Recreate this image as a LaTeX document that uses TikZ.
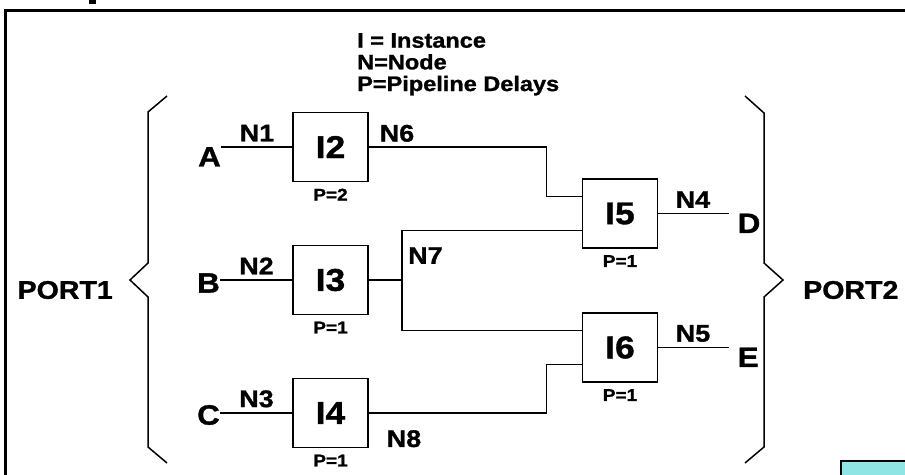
\documentclass[tikz,border=0pt]{standalone}
\usepackage{fontspec}
\setmainfont{Liberation Sans}[FakeStretch=1.12, BoldFeatures={FakeBold=1.2}]
\usepackage{tikz}
\usetikzlibrary{positioning}
\definecolor{tealbox}{HTML}{8FE5E4}

\begin{document}
\begin{tikzpicture}[x=1pt, y=-1pt, node distance=64pt]
        \tikzstyle{instnode}=[rectangle, draw=black, line width=1.8pt, minimum width=75pt, minimum height=69pt, inner sep=0pt, outer sep=0pt, font=\fontsize{31.5}{33}\selectfont\bfseries]
        \tikzstyle{delaylbl}=[inner sep=0pt, font=\fontsize{17}{18}\selectfont\bfseries]
        \tikzstyle{pinlbl}=[inner sep=0pt, font=\fontsize{28}{29}\selectfont\bfseries]
        \tikzstyle{nodelbl}=[inner sep=0pt, font=\fontsize{24}{25}\selectfont\bfseries]
        \tikzstyle{portlbl}=[inner sep=0pt, font=\fontsize{25.5}{27}\selectfont\bfseries]
        \tikzstyle{legendlbl}=[inner sep=0pt, align=left, font=\fontsize{21}{21.7}\selectfont\bfseries]
        \tikzstyle{wire}=[line width=1.3pt]
        \tikzstyle{brace}=[line width=1.5pt]
        \useasboundingbox (0,0) rectangle (905,474);
        \clip (0,0) rectangle (905,474);
        \draw[line width=3pt] (5.5,490) |- (920,10.5);
        \fill (89,0) rectangle (96,4);
        \draw[fill=tealbox, line width=2pt] (841,461) rectangle (920,490);
        \node[legendlbl, anchor=north west] (key) at (357,33) {I = Instance\\N=Node\\P=Pipeline Delays};
        \node[instnode] (I2) at (330.5,147) {I2};
        \node[instnode, below=of I2] (I3) {I3};
        \node[instnode, below=of I3] (I4) {I4};
        \node[instnode] (I5) at (620,213.5) {I5};
        \node[instnode, below=65pt of I5] (I6) {I6};
        \foreach \b/\p in {I2/2,I3/1,I4/1,I5/1,I6/1} {
            \node[delaylbl, below=7pt of \b] (p\b) {P=\p};
        }
        \node[pinlbl, anchor=north east] (A) at (221,147) {A};
        \node[pinlbl, anchor=east] (B) at (220,283) {B};
        \node[pinlbl, anchor=east] (C) at (220,415) {C};
        \node[pinlbl, anchor=north west] (D) at ([xshift=80pt]I5.east) {D};
        \node[pinlbl, anchor=north west] (E) at ([xshift=80pt]I6.east) {E};
        \draw[wire] (A.north east) -- node[nodelbl, above=5pt] (n1) {N1} (I2.west);
        \draw[wire] (B.east |- I3.west) -- node[nodelbl, above=5pt] (n2) {N2} (I3.west);
        \draw[wire] (C.east |- I4.west) -- node[nodelbl, above=5pt] (n3) {N3} (I4.west);
        \draw[wire] (I5.east) -- node[nodelbl, above=5pt] (n4) {N4} ([xshift=-9pt]D.north west);
        \draw[wire] (I6.east) -- node[nodelbl, above=5pt] (n5) {N5} ([xshift=-9pt]E.north west);
        \draw[wire] (I2.east) -| ([xshift=-36pt, yshift=17pt]I5.west) -- ([yshift=17pt]I5.west);
        \node[nodelbl, anchor=south] (n6) at ([xshift=29pt, yshift=5pt]I2.east) {N6};
        \coordinate (j7) at ([xshift=34pt]I3.east);
        \draw[wire] (I3.east) -- (j7);
        \draw[wire] ([yshift=-17pt]I5.west) -| (j7) |- ([yshift=17pt]I6.west);
        \node[nodelbl, anchor=south west] (n7) at ([xshift=6pt, yshift=16pt]j7) {N7};
        \draw[wire] (I4.east) -| ([xshift=-36pt, yshift=-17pt]I6.west) -- ([yshift=-17pt]I6.west);
        \node[nodelbl, anchor=north] (n8) at ([xshift=36pt, yshift=-17pt]I4.east) {N8};
        \draw[brace] (167,96) -- (148,112) -- (148,263) -- (130,280) -- (148,297) -- (148,447) -- (167,463);
        \draw[brace] (745,96) -- (764,113) -- (764,263) -- (783,280) -- (764,297) -- (764,447) -- (745,463);
        \node[portlbl, anchor=east] (port1) at (113,290) {PORT1};
        \node[portlbl, anchor=west] (port2) at (803,290) {PORT2};
    \end{tikzpicture}
\end{document}
